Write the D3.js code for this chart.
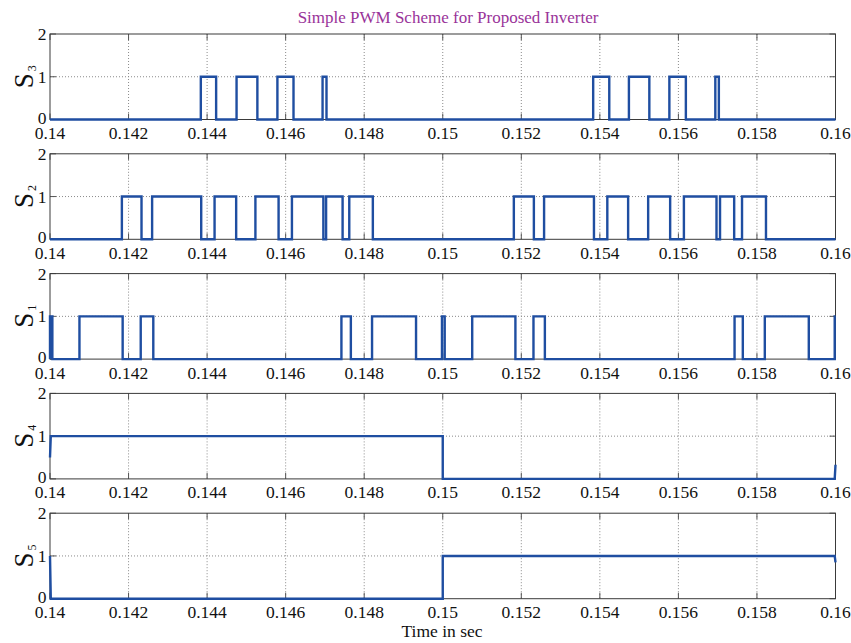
<!DOCTYPE html>
<html>
<head>
<meta charset="utf-8">
<script src="https://cdn.jsdelivr.net/npm/d3@7"></script>
<style>
body { margin: 0; background: #fff; }
svg { display: block; }
svg text { font-family: "Liberation Serif", "DejaVu Serif", serif; }
</style>
</head>
<body>
<div id="chart"></div>
<script>
// Axis ticks
const xTicks = [0.14, 0.142, 0.144, 0.146, 0.148, 0.15, 0.152, 0.154, 0.156, 0.158, 0.16];
const yTicks = [0, 1, 2];

// Panel order top to bottom (subscript of S)
const panelSubs = ["3", "2", "1", "4", "5"];

// Gate pulses as [on, off] times in seconds
const s3Pulses = [[0.14384, 0.14423], [0.14475, 0.14528], [0.14579, 0.14620], [0.14694, 0.14704],
                  [0.15383, 0.15424], [0.15474, 0.15526], [0.15577, 0.15619], [0.15694, 0.15703]];
const s2Pulses = [[0.14183, 0.14233], [0.14260, 0.14385], [0.14419, 0.14474], [0.14523, 0.14582],
                  [0.14616, 0.14696], [0.14703, 0.14745], [0.14762, 0.14822],
                  [0.15181, 0.15232], [0.15258, 0.15385], [0.15419, 0.15472], [0.15523, 0.15579],
                  [0.15614, 0.15697], [0.15706, 0.15742], [0.15762, 0.15823]];
const s1Pulses = [[0.14, 0.14006], [0.14075, 0.14185], [0.14231, 0.14263], [0.14742, 0.14766],
                  [0.14820, 0.14932], [0.14998, 0.15005], [0.15075, 0.15185], [0.15231, 0.15260],
                  [0.15743, 0.15764], [0.15820, 0.15932], [0.15998, 0.16]];

// S4 / S5 as [time, value] samples
const s4Points = [[0.14, 0.5], [0.14002, 1], [0.15, 1], [0.15, 0], [0.15998, 0], [0.16, 0.33]];
const s5Points = [[0.14, 1], [0.14002, 0], [0.15, 0], [0.15, 1], [0.15998, 1], [0.16, 0.85]];

function pulsesToPoints(pulses) {
    const pts = [];
    if (pulses[0][0] > 0.14) pts.push([0.14, 0]);
    pulses.forEach(([on, off]) => {
        pts.push([on, 0], [on, 1], [off, 1], [off, 0]);
    });
    const last = pulses[pulses.length - 1][1];
    if (last < 0.16) pts.push([0.16, 0]);
    else pts[pts.length - 1] = [0.16, 1];
    return pts;
}

const series = [pulsesToPoints(s3Pulses), pulsesToPoints(s2Pulses), pulsesToPoints(s1Pulses), s4Points, s5Points];

const W = 851, H = 643;
const left = 50, plotW = 785.5;
const firstTop = 34, step = 119.8, plotH = 85.5;

const svg = d3.select("#chart").append("svg")
    .attr("width", W)
    .attr("height", H);

svg.append("rect").attr("width", W).attr("height", H).attr("fill", "#fff");

const x = d3.scaleLinear().domain([0.14, 0.16]).range([left, left + plotW]);

const line = d3.line().x(d => x(d[0]));

// Title
svg.append("text")
    .attr("x", 448)
    .attr("y", 23)
    .attr("text-anchor", "middle")
    .attr("font-size", 17)
    .attr("fill", "#993399")
    .text("Simple PWM Scheme for Proposed Inverter");

panelSubs.forEach((sub, i) => {
    const top = firstTop + i * step;
    const y = d3.scaleLinear().domain([0, 2]).range([top + plotH, top]);
    const g = svg.append("g");

    // dotted grid
    g.selectAll(".gx")
        .data(xTicks.slice(1, -1))
        .join("line")
        .attr("x1", d => x(d)).attr("x2", d => x(d))
        .attr("y1", top).attr("y2", top + plotH)
        .attr("stroke", "#8a8a8a")
        .attr("stroke-width", 1)
        .attr("stroke-dasharray", "1,2");
    g.append("line")
        .attr("x1", left).attr("x2", left + plotW)
        .attr("y1", y(1)).attr("y2", y(1))
        .attr("stroke", "#8a8a8a")
        .attr("stroke-width", 1)
        .attr("stroke-dasharray", "1,2");

    // inward ticks, bottom and top
    const tl = 6;
    g.selectAll(".tb")
        .data(xTicks)
        .join("line")
        .attr("x1", d => x(d)).attr("x2", d => x(d))
        .attr("y1", top + plotH).attr("y2", top + plotH - tl)
        .attr("stroke", "#555");
    g.selectAll(".tt")
        .data(xTicks)
        .join("line")
        .attr("x1", d => x(d)).attr("x2", d => x(d))
        .attr("y1", top).attr("y2", top + tl)
        .attr("stroke", "#555");
    g.selectAll(".ty")
        .data(yTicks)
        .join("line")
        .attr("x1", left).attr("x2", left + tl)
        .attr("y1", d => y(d)).attr("y2", d => y(d))
        .attr("stroke", "#555");
    g.selectAll(".ty2")
        .data(yTicks)
        .join("line")
        .attr("x1", left + plotW).attr("x2", left + plotW - tl)
        .attr("y1", d => y(d)).attr("y2", d => y(d))
        .attr("stroke", "#555");

    // frame
    g.append("rect")
        .attr("x", left).attr("y", top)
        .attr("width", plotW).attr("height", plotH)
        .attr("fill", "none")
        .attr("stroke", "#3a3a3a")
        .attr("stroke-width", 1);

    // tick labels
    g.selectAll(".xl")
        .data(xTicks)
        .join("text")
        .attr("x", d => x(d))
        .attr("y", top + plotH + 19.5)
        .attr("text-anchor", "middle")
        .attr("font-size", 17.5)
        .attr("fill", "#111")
        .text(d => String(d));
    g.selectAll(".yl")
        .data(yTicks)
        .join("text")
        .attr("x", left - 3.5)
        .attr("y", d => y(d) + (d === 0 ? 4 : 6))
        .attr("text-anchor", "end")
        .attr("font-size", 17.5)
        .attr("fill", "#111")
        .text(d => d);

    // y label S with subscript
    const lab = g.append("text")
        .attr("transform", `translate(33,${top + plotH / 2}) rotate(-90)`)
        .attr("text-anchor", "middle")
        .attr("fill", "#111");
    lab.append("tspan").attr("font-size", 27).text("S");
    lab.append("tspan").attr("font-size", 12).attr("dx", 2).attr("dy", 3).text(sub);

    // signal
    g.append("path")
        .datum(series[i])
        .attr("fill", "none")
        .attr("stroke", "#1f4ea1")
        .attr("stroke-width", 2.4)
        .attr("d", line.y(d => y(d[1])));
});

svg.append("text")
    .attr("x", 442)
    .attr("y", 637)
    .attr("text-anchor", "middle")
    .attr("font-size", 17.5)
    .attr("fill", "#111")
    .text("Time in sec");
</script>
</body>
</html>
